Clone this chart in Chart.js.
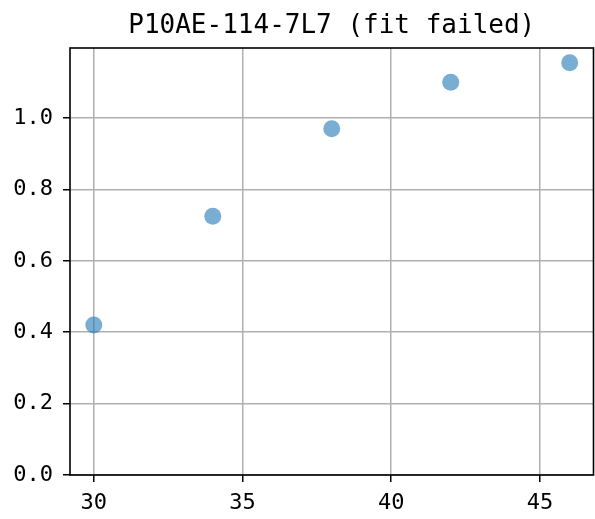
<!DOCTYPE html>
<html>
<head>
<meta charset="utf-8">
<script src="https://cdn.jsdelivr.net/npm/chart.js@4.4.1/dist/chart.umd.min.js"></script>
<style>
  html,body{margin:0;padding:0;background:#fff;overflow:hidden;width:595px;height:519px;}
  canvas{display:block;}
</style>
</head>
<body>
<canvas id="c" width="602" height="519"></canvas>
<script>
// data
const xs = [30, 34, 38, 42, 46];
const ys = [0.42, 0.725, 0.97, 1.10, 1.155];
const xTicks = [30, 35, 40, 45];
const yTicks = [0, 0.2, 0.4, 0.6, 0.8, 1.0];
const title = 'P10AE-114-7L7 (fit failed)';

const MONO = '"DejaVu Sans Mono", monospace';

// frame + title drawn by hand, like matplotlib does
const frame = {
  id: 'frame',
  afterDatasetsDraw(chart){
    const {ctx, chartArea:a} = chart;
    ctx.save();
    ctx.strokeStyle = '#000'; ctx.lineWidth = 1.6;
    ctx.strokeRect(a.left, a.top, a.right - a.left, a.bottom - a.top);
    ctx.restore();
  },
  afterDraw(chart){
    const {ctx, chartArea:a} = chart;
    ctx.save();
    ctx.fillStyle = '#000';
    ctx.font = '26px ' + MONO;
    ctx.textAlign = 'center'; ctx.textBaseline = 'alphabetic';
    ctx.fillText(title, (a.left + a.right) / 2, 33);
    ctx.restore();
  }
};

new Chart(document.getElementById('c'), {
  type: 'scatter',
  data: {
    datasets: [{
      data: xs.map((x, i) => ({x, y: ys[i]})),
      backgroundColor: 'rgba(31,119,180,0.6)',
      borderWidth: 0,
      pointRadius: 8.5,
      pointHoverRadius: 8.5
    }]
  },
  options: {
    responsive: false, animation: false, devicePixelRatio: 1,
    layout: { padding: { top: 48, right: 0, left: 0, bottom: 0 } },
    plugins: { legend: {display:false}, tooltip: {enabled:false}, title: {display:false} },
    scales: {
      x: {
        type: 'linear', min: 29.2, max: 46.8,
        afterBuildTicks: s => { s.ticks = xTicks.map(v => ({value: v})); },
        afterFit: s => { s.height = 44; },
        grid: { color: '#b0b0b0', lineWidth: 1.5, tickColor: '#000', tickLength: 7, tickWidth: 1.5 },
        border: { display: false },
        ticks: { color: '#000', font: { family: MONO, size: 22 }, padding: 8, maxRotation: 0,
          callback: v => String(v) }
      },
      y: {
        type: 'linear', min: 0, max: 1.196,
        afterBuildTicks: s => { s.ticks = yTicks.map(v => ({value: v})); },
        afterFit: s => { s.width = 70; },
        grid: { color: '#b0b0b0', lineWidth: 1.5, tickColor: '#000', tickLength: 7, tickWidth: 1.5 },
        border: { display: false },
        ticks: { color: '#000', font: { family: MONO, size: 22 }, padding: 10,
          callback: v => v.toFixed(1) }
      }
    }
  },
  plugins: [frame]
});
</script>
</body>
</html>
